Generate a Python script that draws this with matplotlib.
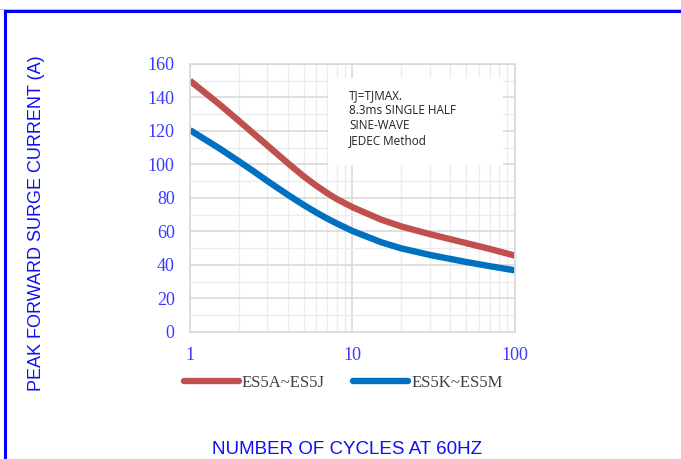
import matplotlib.pyplot as plt
from matplotlib.lines import Line2D
from matplotlib.patches import Rectangle
from matplotlib.ticker import FixedLocator, LogLocator, NullFormatter

# data
cycles = [1, 1.5, 2, 2.5, 3, 4, 5, 6, 7, 8, 10, 15, 20, 30, 50, 70, 100]
es5a_j = [150, 136.3, 126, 117.9, 111.3, 100.8, 93, 87.3, 82.9, 79.4, 74.5, 67.1, 63, 58.4, 53.1, 49.6, 45.6]
es5k_m = [120.5, 109.9, 101.9, 95.5, 90.1, 81.9, 75.9, 71.3, 67.7, 64.8, 60.3, 53.6, 49.9, 46, 41.8, 39.3, 36.8]
labels = ['ES5A~ES5J', 'ES5K~ES5M']
yticks = [0, 20, 40, 60, 80, 100, 120, 140, 160]
xticks = [1, 10, 100]
note = 'TJ=TJMAX.\n8.3ms SINGLE HALF\nSINE-WAVE\nJEDEC Method'

tick_col = '#3a3aff'
lab_col = '#1010f0'

fig = plt.figure(figsize=(6.81, 4.59), dpi=100)
ax = fig.add_axes([0.279, 0.2767, 0.477, 0.584])

ax.plot(cycles, es5a_j, color='#c0504d', lw=4.6, solid_capstyle='butt',
        solid_joinstyle='round', label=labels[0])
ax.plot(cycles, es5k_m, color='#0070c0', lw=4.6, solid_capstyle='butt',
        solid_joinstyle='round', label=labels[1])

ax.set_xscale('log')
ax.set_xlim(1, 100)
ax.set_ylim(0, 160)
ax.set_xticks(xticks)
ax.set_xticklabels([str(t) for t in xticks])
ax.xaxis.set_minor_locator(LogLocator(base=10, subs=range(2, 10)))
ax.xaxis.set_minor_formatter(NullFormatter())
ax.set_yticks(yticks)
ax.yaxis.set_minor_locator(FixedLocator(range(10, 160, 20)))

ax.grid(which='major', color='#d9d9d9', lw=1.2)
ax.grid(which='minor', color='#ececec', lw=1.0)
ax.set_axisbelow(True)
for s in ax.spines.values():
    s.set_color('#d9d9d9')
    s.set_linewidth(1.2)

ax.tick_params(which='both', length=0)
ax.tick_params(axis='y', pad=11, labelsize=13, labelcolor=tick_col)
ax.tick_params(axis='x', pad=11, labelsize=13, labelcolor=tick_col)
for t in ax.get_xticklabels() + ax.get_yticklabels():
    t.set_family('Liberation Serif')

# note box
ax.add_patch(Rectangle((0.425, 0.623), 0.538, 0.325, transform=ax.transAxes,
                       fc='white', ec='none', zorder=2.5))
ax.text(0.49, 0.905, note, transform=ax.transAxes, ha='left', va='top',
        fontsize=8.5, family='Open Sans', color='#222222', linespacing=1.2, zorder=3)

leg = ax.legend(loc='center', bbox_to_anchor=(0.472, -0.19), ncol=2, frameon=False,
                handlelength=3.3, handletextpad=0.2, columnspacing=1.7,
                borderpad=0, prop={'family': 'Liberation Serif', 'size': 12})
for t in leg.get_texts():
    t.set_color('#404040')
for h in leg.get_lines():
    h.set_linewidth(4.6)
    h.set_solid_capstyle('round')

fig.text(0.054, 0.514, 'PEAK FORWARD SURGE CURRENT (A)', rotation=90, ha='center', va='center',
         fontsize=13, family='Liberation Sans', color=lab_col)
fig.text(0.509, 0.02, 'NUMBER OF CYCLES AT 60HZ', ha='center', va='center',
         fontsize=13.5, family='Liberation Sans', color=lab_col)

# blue frame
fig.add_artist(Line2D([0.0, 1.0], [0.9805, 0.9805], color='#c8c8c8', lw=0.8))
fig.add_artist(Line2D([0.0075, 1.0], [0.976, 0.976], color='#0000ff', lw=2.2))
fig.add_artist(Line2D([0.0075, 0.0075], [0.0, 0.976], color='#0000ff', lw=2.2))

fig.savefig('out.png', dpi=100)
